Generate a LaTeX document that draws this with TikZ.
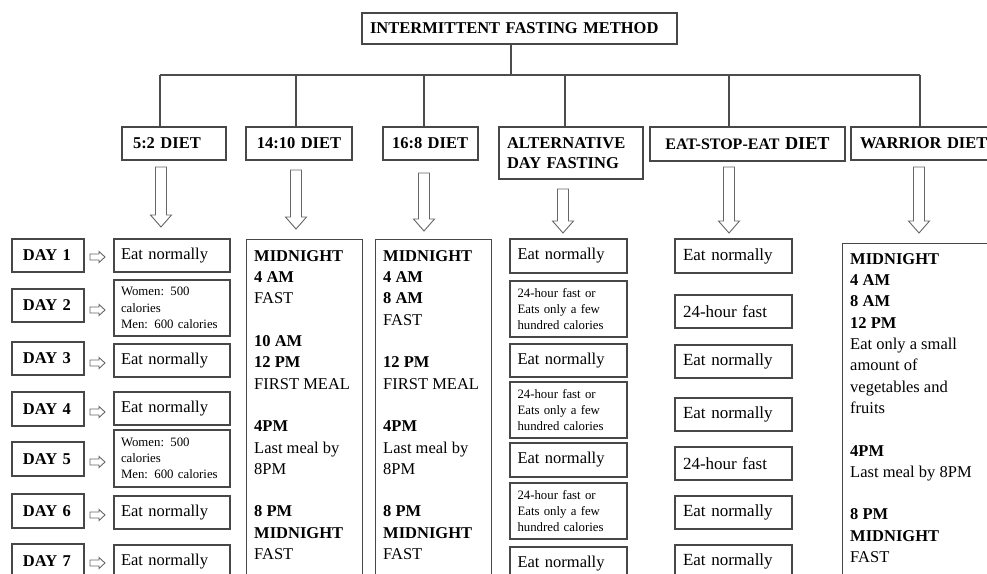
\documentclass[tikz,border=0pt]{standalone}
\usepackage{fontspec}
\setmainfont{Liberation Serif}

% a framed cell given by its corners: [style]{name}{x1}{y1}{x2}{y2}{padding}{text}
\newcommand{\cellbox}[8][]{%
  \pgfmathsetmacro\cbw{#5-#3}%
  \pgfmathsetmacro\cbh{#6-#4}%
  \pgfmathsetmacro\cbt{#5-#3-2*#7}%
  \node[cell,#1,minimum width=\cbw pt,minimum height=\cbh pt,
        text width=\cbt pt,inner xsep=#7pt] (#2) at ({(#3+#5)/2},{(#4+#6)/2}) {#8};}

% hollow block arrow pointing down: {x}{top}{tip}
\newcommand{\blockdown}[3]{%
  \draw[blockarrow] (#1-5.5,#2) -- (#1+5.5,#2) -- (#1+5.5,#3-12) -- (#1+10.5,#3-12)
    -- (#1,#3) -- (#1-10.5,#3-12) -- (#1-5.5,#3-12) -- cycle;}

% small hollow block arrow pointing right: {start}{tip}{y}
\newcommand{\blockright}[3]{%
  \draw[blockarrow] (#1,#3-3) -- (#2-6,#3-3) -- (#2-6,#3-5.5) -- (#2,#3)
    -- (#2-6,#3+5.5) -- (#2-6,#3+3) -- (#1,#3+3) -- cycle;}

\begin{document}
\begin{tikzpicture}[x=1pt,y=-1pt,
  cell/.style={draw=black!72,line width=1.3pt,align=left,inner ysep=0pt,
               font=\fontsize{16.5}{20}\selectfont,text=black},
  head/.style={font=\fontsize{16.5}{20}\selectfont\bfseries},
  small/.style={font=\fontsize{12.8}{16.2}\selectfont},
  big/.style={font=\fontsize{17}{20}\selectfont},
  coltext/.style={align=left,inner sep=0pt,font=\fontsize{16.5}{21.3}\selectfont,text=black},
  bus/.style={draw=black!70,line width=1.2pt},
  blockarrow/.style={draw=black!60,line width=0.9pt,fill=white,line join=miter}]

\clip (0,0) rectangle (987,573);
\fill[white] (0,0) rectangle (987,573);

% title and the six methods
\cellbox[head]{top}{362}{13}{677}{44}{8}{INTERMITTENT FASTING METHOD}
\cellbox[head]{h52}{122}{127}{226}{160}{11}{5:2 DIET}
\cellbox[head,align=center]{h1410}{246}{127}{352}{160}{4}{14:10 DIET}
\cellbox[head]{h168}{383}{127}{478}{160}{9}{16:8 DIET}
\cellbox[head]{halt}{499}{127}{643}{179}{8}{ALTERNATIVE\\DAY FASTING}
\cellbox[head,align=center]{hese}{650}{127}{845}{161}{4}{{\fontsize{16}{20}\selectfont EAT-STOP-EAT} {\fontsize{18.2}{20}\selectfont DIET}}
\cellbox[head]{hwar}{851}{127}{1000}{160}{9}{WARRIOR DIET}

% tree connectors
\coordinate (hub) at (511,75);
\coordinate (b1) at (160,75);
\coordinate (b2) at (296,75);
\coordinate (b3) at (424,75);
\coordinate (b4) at (565,75);
\coordinate (b5) at (729,75);
\coordinate (b6) at (920,75);
\draw[bus] (top.south -| hub) -- (hub);
\draw[bus] (b1) -- (b6);
\draw[bus] (b1) -- (b1 |- h52.north);
\draw[bus] (b2) -- (b2 |- h1410.north);
\draw[bus] (b3) -- (b3 |- h168.north);
\draw[bus] (b4) -- (b4 |- halt.north);
\draw[bus] (b5) -- (b5 |- hese.north);
\draw[bus] (b6) -- (b6 |- hwar.north);

% block arrows under each method
\blockdown{161}{167}{227}
\blockdown{296}{170}{229}
\blockdown{424}{173}{231}
\blockdown{563}{189}{233}
\blockdown{729}{167}{233}
\blockdown{919}{167}{233}

% 5:2 diet: days and what to eat
\cellbox[head]{d1}{12}{239}{84}{272}{11}{DAY 1}
\cellbox[head]{d2}{12}{289}{84}{322}{11}{DAY 2}
\cellbox[head]{d3}{12}{342}{84}{375}{11}{DAY 3}
\cellbox[head]{d4}{12}{392}{84}{426}{11}{DAY 4}
\cellbox[head]{d5}{12}{442}{84}{476}{11}{DAY 5}
\cellbox[head]{d6}{12}{494}{84}{528}{11}{DAY 6}
\cellbox[head]{d7}{12}{544}{84}{578}{11}{DAY 7}

\cellbox{e1}{114}{239}{230}{272}{7}{Eat normally}
\cellbox[small]{e2}{114}{280}{230}{336}{7}{Women: 500\\calories\\Men: 600 calories}
\cellbox{e3}{114}{344}{230}{377}{7}{Eat normally}
\cellbox{e4}{114}{392}{230}{425}{7}{Eat normally}
\cellbox[small]{e5}{114}{430}{230}{487}{7}{Women: 500\\calories\\Men: 600 calories}
\cellbox{e6}{114}{496}{230}{529}{7}{Eat normally}
\cellbox{e7}{114}{545}{230}{579}{7}{Eat normally}

\blockright{90}{105}{257}
\blockright{90}{105}{310}
\blockright{90}{105}{363}
\blockright{90}{105}{412}
\blockright{90}{105}{462}
\blockright{90}{105}{515}
\blockright{90}{105}{563}

% 14:10 diet timeline (placed by the baseline of its last line)
\node[cell,anchor=north west,minimum width=116pt,minimum height=400pt] (c1410) at (246,239) {};
\node[coltext,anchor=base west] (t1410) at (254,559.5)
  {\textbf{MIDNIGHT}\\\textbf{4 AM}\\FAST\\[21.3pt]
   \textbf{10 AM}\\\textbf{12 PM}\\FIRST MEAL\\[21.3pt]
   \textbf{4PM}\\Last meal by\\8PM\\[21.3pt]
   \textbf{8 PM}\\\textbf{MIDNIGHT}\\FAST};

% 16:8 diet timeline
\node[cell,anchor=north west,minimum width=116pt,minimum height=400pt] (c168) at (375,239) {};
\node[coltext,anchor=base west] (t168) at (383,559.5)
  {\textbf{MIDNIGHT}\\\textbf{4 AM}\\\textbf{8 AM}\\FAST\\[21.3pt]
   \textbf{12 PM}\\FIRST MEAL\\[21.3pt]
   \textbf{4PM}\\Last meal by\\8PM\\[21.3pt]
   \textbf{8 PM}\\\textbf{MIDNIGHT}\\FAST};

% alternate day fasting
\cellbox{a1}{510}{239}{627}{273}{7.5}{Eat normally}
\cellbox[small]{a2}{510}{281}{627}{337}{7.5}{24-hour fast or\\Eats only a few\\hundred calories}
\cellbox{a3}{510}{344}{627}{377}{7.5}{Eat normally}
\cellbox[small]{a4}{510}{382}{627}{438}{7.5}{24-hour fast or\\Eats only a few\\hundred calories}
\cellbox{a5}{510}{443}{627}{477}{7.5}{Eat normally}
\cellbox[small]{a6}{510}{483}{627}{539}{7.5}{24-hour fast or\\Eats only a few\\hundred calories}
\cellbox{a7}{510}{547}{627}{580}{7.5}{Eat normally}

% eat-stop-eat
\cellbox[big]{s1}{675}{239}{792}{273}{8}{Eat normally}
\cellbox[big]{s2}{675}{295}{792}{328}{8}{24-hour fast}
\cellbox[big]{s3}{675}{345}{792}{378}{8}{Eat normally}
\cellbox[big]{s4}{675}{398}{792}{431}{8}{Eat normally}
\cellbox[big]{s5}{675}{447}{792}{480}{8}{24-hour fast}
\cellbox[big]{s6}{675}{496}{792}{529}{8}{Eat normally}
\cellbox[big]{s7}{675}{545}{792}{578}{8}{Eat normally}

% warrior diet timeline
\node[cell,anchor=north west,minimum width=160pt,minimum height=400pt] (cwar) at (842,243) {};
\node[coltext,anchor=base west] (twar) at (850,562.5)
  {\textbf{MIDNIGHT}\\\textbf{4 AM}\\\textbf{8 AM}\\\textbf{12 PM}\\
   Eat only a small\\amount of\\vegetables and\\fruits\\[21.3pt]
   \textbf{4PM}\\Last meal by 8PM\\[21.3pt]
   \textbf{8 PM}\\\textbf{MIDNIGHT}\\FAST};
\end{tikzpicture}
\end{document}
